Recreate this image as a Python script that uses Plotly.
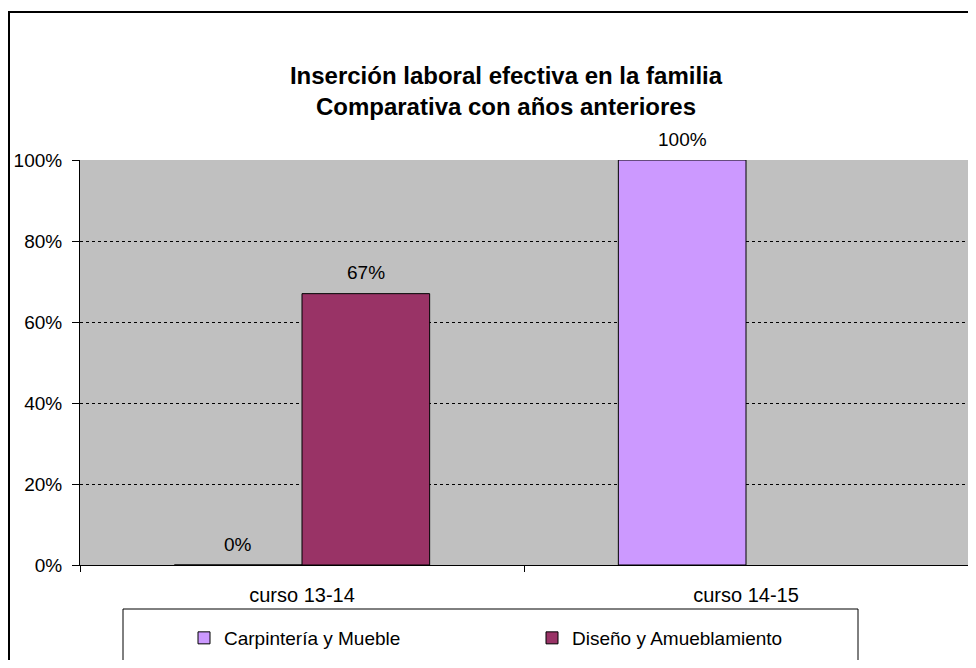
import plotly.graph_objects as go

# data
cursos = ["curso 13-14", "curso 14-15"]
carpinteria = [0.0, 1.0]
diseno = [0.67, None]
series_names = ["Carpintería y Mueble", "Diseño y Amueblamiento"]
series_colors = ["#CC99FF", "#993366"]

font_family = "Arial, Liberation Sans, sans-serif"
# page body has an 8px margin, so the figure starts at (8, 8) on screen;
# keep it inside the 976x668 window so the page never overflows
OFF = 8
W, H = 976 - 2 * OFF, 668 - 2 * OFF
plot_left, plot_right, plot_top, plot_bottom = 80, 968, 160, 565
m_l = plot_left - OFF
m_t = plot_top - OFF
m_r = W - (plot_right - OFF)
m_b = H - (plot_bottom - OFF)
bargap = 0.425

fig = go.Figure()
for name, vals, col in zip(series_names, [carpinteria, diseno], series_colors):
    fig.add_trace(go.Bar(
        x=cursos, y=vals, name=name,
        marker_color=col,
        marker_line=dict(color="black", width=1)))

# value labels above bars
plot_w = plot_right - plot_left
plot_h = plot_bottom - plot_top
bar_px = plot_w / len(cursos) * (1 - bargap) / 2
for i, vals in enumerate([carpinteria, diseno]):
    for c, v in zip(cursos, vals):
        if v is None:
            continue
        fig.add_annotation(
            x=c, y=v, xref="x", yref="y",
            text=f"{v:.0%}", showarrow=False,
            xshift=(i - 0.5) * bar_px, yshift=21, yanchor="middle",
            font=dict(size=19, color="black", family=font_family))

# screen px -> paper coords
def px_x(p):
    return (p - plot_left) / plot_w

def px_y(p):
    return (plot_bottom - p) / plot_h

# outer chart frame and legend box
fig.add_shape(type="rect", xref="paper", yref="paper",
    x0=px_x(9), x1=px_x(1000), y0=px_y(12), y1=px_y(700),
    line=dict(color="black", width=2), fillcolor="rgba(0,0,0,0)", layer="below")
fig.add_shape(type="rect", xref="paper", yref="paper",
    x0=px_x(123), x1=px_x(858), y0=px_y(609), y1=px_y(700),
    line=dict(color="black", width=1), fillcolor="rgba(0,0,0,0)")

fig.update_layout(
    width=W, height=H,
    margin=dict(l=m_l, r=m_r, t=m_t, b=m_b),
    paper_bgcolor="white",
    plot_bgcolor="#C0C0C0",
    barmode="group", bargap=bargap, bargroupgap=0,
    font=dict(family=font_family, color="black", size=19),
    title=dict(
        text="<b>Inserción laboral efectiva en la familia<br>Comparativa con años anteriores</b>",
        xref="paper", x=px_x(506), xanchor="center",
        yref="container", y=1 - 76 / H, yanchor="middle",
        font=dict(size=24, family=font_family, color="black")),
    legend=dict(
        orientation="h", x=px_x(184), xanchor="left", y=px_y(638), yanchor="middle",
        bgcolor="rgba(0,0,0,0)", borderwidth=0, entrywidth=303,
        font=dict(size=19, family=font_family, color="black")),
)

fig.update_xaxes(
    showline=True, linecolor="black", linewidth=1, mirror=False,
    ticks="outside", tickson="boundaries", ticklen=6, tickcolor="black",
    ticklabelstandoff=12, showgrid=False,
    tickfont=dict(size=20))
fig.update_yaxes(
    range=[0, 1], dtick=0.2, tickformat=".0%",
    showline=True, linecolor="black", linewidth=1, mirror=True,
    ticks="outside", ticklen=7, tickcolor="black", ticklabelstandoff=6,
    showgrid=True, gridcolor="black", gridwidth=1, griddash="dot",
    zeroline=False, tickfont=dict(size=19))

fig.write_html("out.html")
